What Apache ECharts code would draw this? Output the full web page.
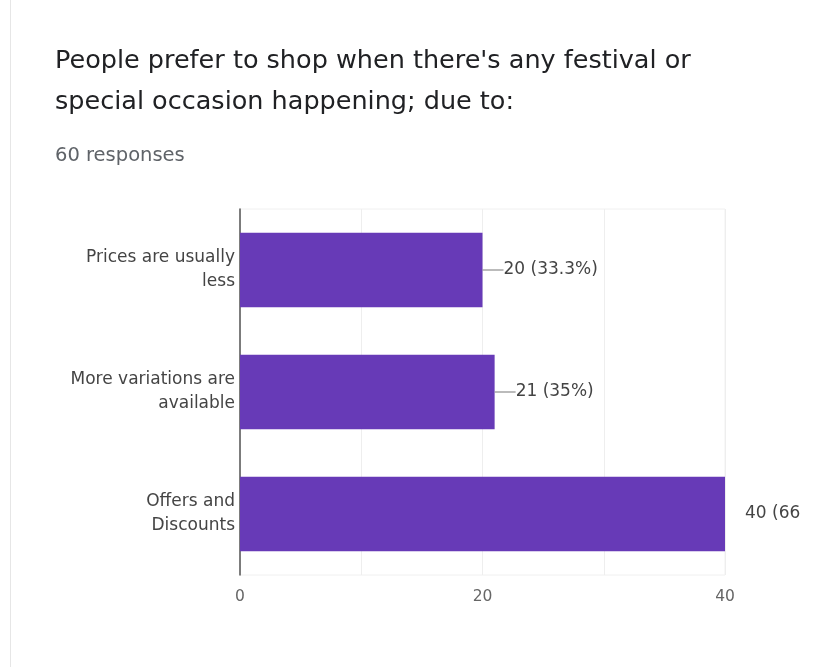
<!DOCTYPE html>
<html>
<head>
<meta charset="utf-8">
<script src="https://cdn.jsdelivr.net/npm/echarts@6/dist/echarts.min.js"></script>
<style>
  html, body { margin: 0; padding: 0; background: #fff; }
  #card { position: absolute; left: 0; top: 0; width: 814px; height: 667px; }
  #edge { position: absolute; left: 10px; top: 0; width: 1px; height: 667px; background: #e6e6e6; }
  #chart { position: absolute; left: 0; top: 0; width: 801px; height: 667px; overflow: hidden; }
</style>
</head>
<body>
<div id="card"><div id="edge"></div><div id="chart"></div></div>
<script>
// Survey question and answers
const questionTitle = "People prefer to shop when there's any festival or\nspecial occasion happening; due to:";
const totalResponses = 60;
const categories = ["Prices are usually\nless", "More variations are\navailable", "Offers and\nDiscounts"];
const counts = [20, 21, 40];
const showLeader = [true, true, false];

function pct(v) {
  const p = Math.round(v / totalResponses * 1000) / 10;
  return (p % 1 === 0 ? p.toFixed(0) : p.toFixed(1)) + '%';
}

const chart = echarts.init(document.getElementById('chart'), null, { renderer: 'canvas' });
const FONT = '"DejaVu Sans", Roboto, sans-serif';

chart.setOption({
  animation: false,
  textStyle: { fontFamily: FONT },
  title: [
    {
      text: questionTitle,
      left: 50, top: 36,
      textStyle: { fontSize: 25.5, fontWeight: 'normal', color: '#202124', lineHeight: 41, fontFamily: FONT }
    },
    {
      text: totalResponses + ' responses',
      left: 50, top: 141,
      textStyle: { fontSize: 19.5, fontWeight: 'normal', color: '#5f6368', fontFamily: FONT }
    }
  ],
  // plot area spans 240..725 horizontally in the 814px card
  grid: { left: 240, right: 76, top: 209, bottom: 92, show: true, borderColor: '#f0f0f0', borderWidth: 1 },
  xAxis: {
    type: 'value', min: 0, max: 40, interval: 10,
    axisLine: { show: false }, axisTick: { show: false },
    splitLine: { lineStyle: { color: '#eeeeee' } },
    axisLabel: {
      margin: 14, fontSize: 15.5, color: '#666',
      formatter: v => (v % 20 === 0 ? String(v) : '')
    }
  },
  yAxis: {
    type: 'category', data: categories, inverse: true,
    axisLine: { lineStyle: { color: '#555', width: 1.5 } },
    axisTick: { show: false },
    splitLine: { show: false },
    axisLabel: { margin: 5, fontSize: 17, color: '#444', lineHeight: 24, align: 'right' }
  },
  series: [{
    type: 'bar',
    barWidth: '61%',
    itemStyle: { color: '#673ab7' },
    data: counts.map((v, i) => ({
      value: v,
      label: { distance: showLeader[i] ? 0 : 20 }
    })),
    label: {
      show: true, position: 'right', fontSize: 17, color: '#444',
      formatter: p => {
        const txt = p.value + ' (' + pct(p.value) + ')';
        return showLeader[p.dataIndex] ? '{ln|}{t|' + txt + '}' : '{t|' + txt + '}';
      },
      rich: {
        ln: { width: 21, height: 1, backgroundColor: '#777' },
        t: { fontSize: 17, color: '#444', fontFamily: FONT }
      }
    }
  }]
});
</script>
</body>
</html>
